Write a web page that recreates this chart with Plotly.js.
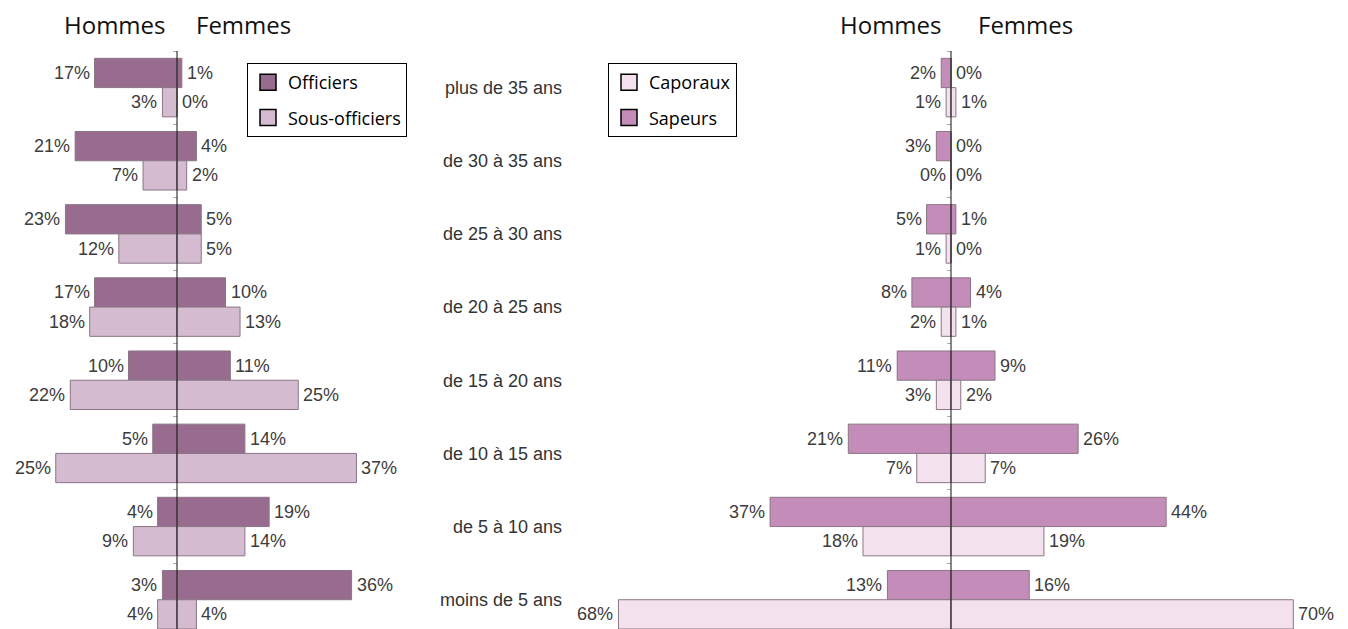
<!DOCTYPE html>
<html><head><meta charset="utf-8">
<script src="https://cdn.plot.ly/plotly-3.0.1.min.js"></script>
<style>html,body{margin:0;padding:0;background:#fff;}#chart{width:1348px;height:629px;}</style>
</head><body><div id="chart"></div>
<script>
const ageGroups = ['plus de 35 ans','de 30 à 35 ans','de 25 à 30 ans','de 20 à 25 ans','de 15 à 20 ans','de 10 à 15 ans','de 5 à 10 ans','moins de 5 ans'];
const officiersHommes = [17,21,23,17,10,5,4,3];
const officiersFemmes = [1,4,5,10,11,14,19,36];
const sousOffHommes   = [3,7,12,18,22,25,9,4];
const sousOffFemmes   = [0,2,5,13,25,37,14,4];
const sapeursHommes   = [2,3,5,8,11,21,37,13];
const sapeursFemmes   = [0,0,1,4,9,26,44,16];
const caporauxHommes  = [1,0,1,2,3,7,18,68];
const caporauxFemmes  = [1,0,0,1,2,7,19,70];
const sexLabels = ['Hommes','Femmes'];

const C = {off:'#986c8e', sous:'#d5bbd0', sap:'#c48db9', cap:'#f3e1ed'};
const W = 1348, H = 629, T = 51, PH = H - T;
const RANGE = [7.4, -0.5];
const UNIT = PH / Math.abs(RANGE[0] - RANGE[1]);
const labelFont = {family:'Arial, "Liberation Sans", sans-serif', size:18, color:'#3c3c3c'};

function bars(vals, sign, color, xa, ya, offset){
  return {type:'bar', orientation:'h', y:ageGroups, x:vals.map(v => sign*v),
    marker:{color:color, line:{color:'#8a7585', width:1}},
    offset:offset, width:0.4, xaxis:xa, yaxis:ya, showlegend:false, hoverinfo:'skip'};
}
function labels(vals, sign, xa, ya, upper){
  return vals.map((v, i) => ({xref:xa, yref:ya, x:sign*v, y:ageGroups[i], text:v + '%', showarrow:false,
    xanchor:sign < 0 ? 'right' : 'left', yanchor:'middle', xshift:sign*3, yshift:(upper ? 1 : -1)*0.2*UNIT, font:labelFont}));
}
function legendItem(name, color, leg, xa, ya){
  return {type:'scatter', mode:'markers', x:ageGroups.map(() => null), y:ageGroups, name:name,
    marker:{symbol:'square', size:16, color:color, line:{color:'#000', width:1.5}},
    legend:leg, legendgroup:name, xaxis:xa, yaxis:ya, hoverinfo:'skip'};
}

const data = [
  bars(officiersHommes, -1, C.off, 'x', 'y', -0.4),
  bars(officiersFemmes, 1, C.off, 'x', 'y', -0.4),
  bars(sousOffHommes, -1, C.sous, 'x', 'y', 0),
  bars(sousOffFemmes, 1, C.sous, 'x', 'y', 0),
  bars(sapeursHommes, -1, C.sap, 'x2', 'y2', -0.4),
  bars(sapeursFemmes, 1, C.sap, 'x2', 'y2', -0.4),
  bars(caporauxHommes, -1, C.cap, 'x2', 'y2', 0),
  bars(caporauxFemmes, 1, C.cap, 'x2', 'y2', 0),
  legendItem('Officiers', C.off, 'legend', 'x', 'y'),
  legendItem('Sous-officiers', C.sous, 'legend', 'x', 'y'),
  legendItem('Caporaux', C.cap, 'legend2', 'x2', 'y3'),
  legendItem('Sapeurs', C.sap, 'legend2', 'x2', 'y3')
];

const catAxis = {type:'category', categoryorder:'array', categoryarray:ageGroups, range:RANGE,
  showgrid:false, zeroline:false, showline:false, fixedrange:true};
const legendBase = {xanchor:'left', yanchor:'top', y:(H-63)/PH, bordercolor:'#000', borderwidth:1, bgcolor:'#fff',
  font:{family:'"Open Sans", "Noto Sans", sans-serif', size:18, color:'#000'}, traceorder:'grouped', tracegroupgap:9};
const titleFont = {family:'"Open Sans", "Noto Sans", sans-serif', size:24, color:'#111'};
function title(txt, px){ return {text:txt, xref:'paper', yref:'paper', x:px/W, y:(H-25)/PH, xanchor:'center', yanchor:'middle', showarrow:false, font:titleFont}; }
function centerLine(xa){ return {type:'line', xref:xa, yref:(xa==='x'?'y':'y2')+' domain', x0:0, x1:0, y0:0, y1:1, layer:'above', line:{color:'#111', width:1}}; }

const annotations = [].concat(
  [title(sexLabels[0], 114), title(sexLabels[1], 243), title(sexLabels[0], 890), title(sexLabels[1], 1025)],
  labels(officiersHommes, -1, 'x', 'y', true), labels(officiersFemmes, 1, 'x', 'y', true),
  labels(sousOffHommes, -1, 'x', 'y', false), labels(sousOffFemmes, 1, 'x', 'y', false),
  labels(sapeursHommes, -1, 'x2', 'y2', true), labels(sapeursFemmes, 1, 'x2', 'y2', true),
  labels(caporauxHommes, -1, 'x2', 'y2', false), labels(caporauxFemmes, 1, 'x2', 'y2', false)
);

const layout = {
  width:W, height:H, margin:{l:0, r:0, t:T, b:0}, paper_bgcolor:'#fff', plot_bgcolor:'rgba(0,0,0,0)',
  barmode:'overlay', showlegend:true,
  xaxis:{domain:[0, 430/W], range:[-177/4.85, (430-177)/4.85], visible:false, fixedrange:true, anchor:'y'},
  yaxis:Object.assign({}, catAxis, {anchor:'free', position:177/W, showticklabels:false, ticks:'outside', ticklen:4, tickcolor:'#aaa', tickson:'boundaries'}),
  xaxis2:{domain:[565/W, 1], range:[-(951-565)/4.89, (W-951)/4.89], visible:false, fixedrange:true, anchor:'y2'},
  yaxis2:Object.assign({}, catAxis, {anchor:'x2', showticklabels:true, ticks:'', ticklabelstandoff:2,
    tickfont:{family:'Arial, "Liberation Sans", sans-serif', size:18, color:'#333'}}),
  yaxis3:Object.assign({}, catAxis, {overlaying:'y2', anchor:'free', position:951/W, showticklabels:false, ticks:'outside', ticklen:4, tickcolor:'#aaa', tickson:'boundaries'}),
  legend:Object.assign({}, legendBase, {x:247/W}),
  legend2:Object.assign({}, legendBase, {x:608/W}),
  shapes:[centerLine('x'), centerLine('x2')],
  annotations:annotations
};
Plotly.newPlot('chart', data, layout, {displayModeBar:false, staticPlot:true});
</script></body></html>
